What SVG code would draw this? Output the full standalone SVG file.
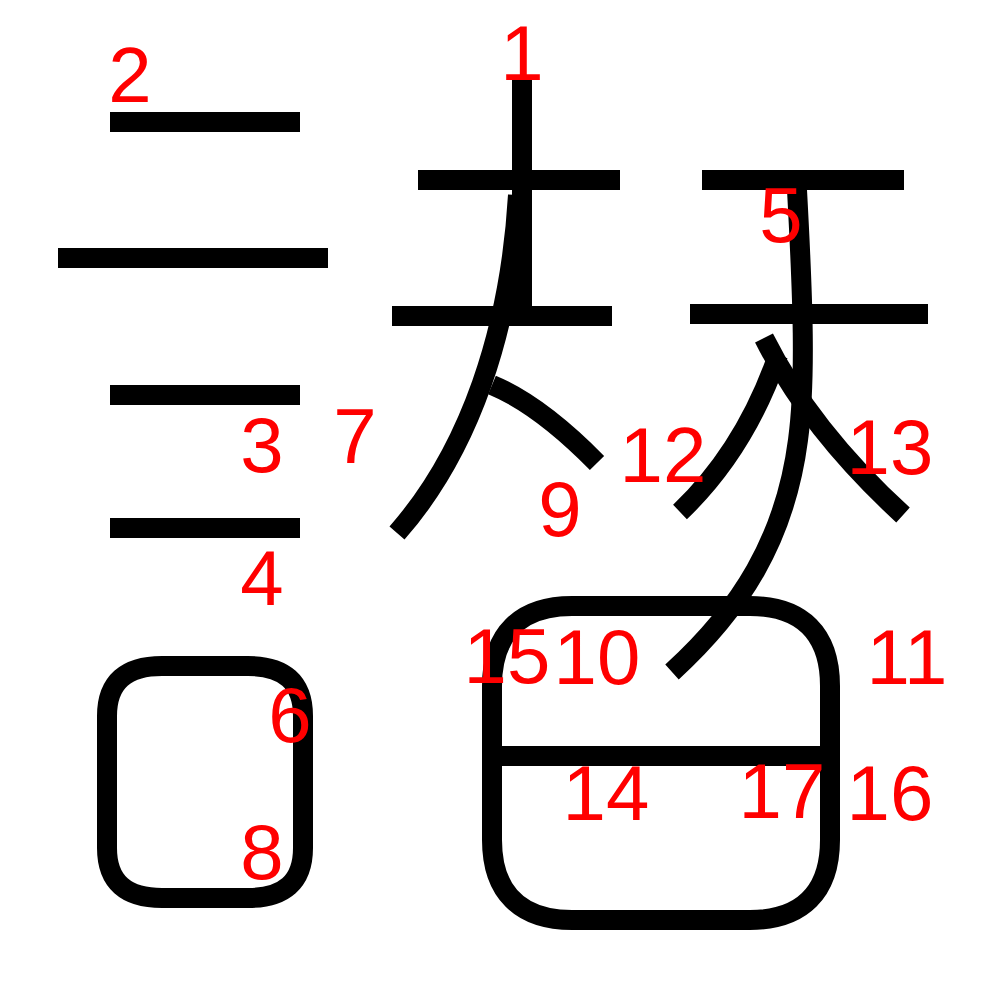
<svg xmlns="http://www.w3.org/2000/svg" width="1000" height="1000" viewBox="0 0 1000 1000">
<style>
.s{fill:none;stroke:#000;stroke-width:20;stroke-linecap:butt;stroke-linejoin:round}
.n{fill:#f00;font-family:"Liberation Sans",Arial,sans-serif;font-size:78px;text-anchor:middle}
</style>
<rect width="1000" height="1000" fill="#fff"/>
<g id="strokes">
<g id="s1"><path class="s" d="M522,80 V310"/></g>
<g id="s2"><path class="s" d="M110,122 H300"/></g>
<g id="s2b"><path class="s" d="M58,258 H328"/></g>
<g id="s3"><path class="s" d="M110,395 H300"/></g>
<g id="s4"><path class="s" d="M110,528 H300"/></g>
<g id="s6"><path class="s" d="M162,666 H248 C284,666 303,682 303,716 V848 C303,882 284,898 248,898 H162 C126,898 107,882 107,848 V716 C107,682 126,666 162,666 Z"/></g>
<g id="h1"><path class="s" d="M418,180 H620"/></g>
<g id="h2"><path class="s" d="M392,316 H612"/></g>
<g id="s7"><path class="s" d="M518,195 C510,330 470,450 397,533"/></g>
<g id="s9"><path class="s" d="M492,385 Q540,405 597,463"/></g>
<g id="h3"><path class="s" d="M702,180 H904"/></g>
<g id="h4"><path class="s" d="M690,314 H928"/></g>
<g id="s5"><path class="s" d="M797,190 C803,300 806,380 798,440 C785,540 740,610 672,672"/></g>
<g id="s12"><path class="s" d="M778,355 Q745,450 680,512"/></g>
<g id="s13"><path class="s" d="M764,338 Q810,430 903,515"/></g>
<g id="s15"><path class="s" d="M572,606 H750 C802,606 830,634 830,686 V840 C830,892 802,920 750,920 H572 C520,920 492,892 492,840 V686 C492,634 520,606 572,606 Z"/></g>
<g id="s14"><path class="s" d="M500,756 H822"/></g>
</g>
<g id="labels">
<text class="n" x="522" y="80">1</text>
<text class="n" x="130" y="102">2</text>
<text class="n" x="262" y="472">3</text>
<text class="n" x="262" y="605">4</text>
<text class="n" x="781" y="242">5</text>
<text class="n" x="290" y="742">6</text>
<text class="n" x="355" y="463">7</text>
<text class="n" x="262" y="879">8</text>
<text class="n" x="560" y="536">9</text>
<text class="n" x="597" y="684">10</text>
<text class="n" x="907" y="684">11</text>
<text class="n" x="663" y="482">12</text>
<text class="n" x="890" y="474">13</text>
<text class="n" x="606" y="820">14</text>
<text class="n" x="507" y="683">15</text>
<text class="n" x="890" y="820">16</text>
<text class="n" x="782" y="818">17</text>
</g>
</svg>
